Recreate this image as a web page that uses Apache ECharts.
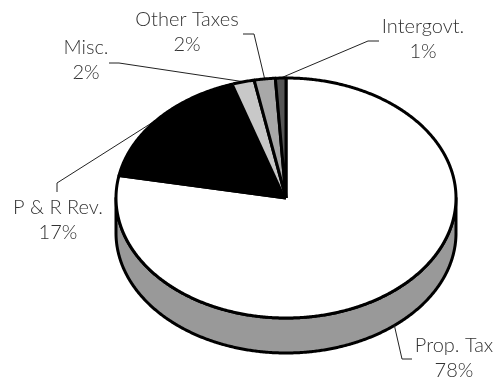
<!DOCTYPE html>
<html>
<head>
<meta charset="utf-8">
<style>html,body{margin:0;padding:0;background:#fff}#c{width:494px;height:379px}</style>
<script src="https://cdn.jsdelivr.net/npm/echarts@6/dist/echarts.min.js"></script>
</head>
<body>
<div id="c"></div>
<script>
// Revenue shares, clockwise from twelve o'clock
const sources = ['Prop. Tax', 'P & R Rev.', 'Misc.', 'Other Taxes', 'Intergovt.'];
const shares = [78, 17, 2, 2, 1];
const sliceColors = ['#ffffff', '#000000', '#c8c8c8', '#a8a8a8', '#555555'];

// Tilted disc geometry, in pixels
const cx = 286, cy = 198, rx = 170, ry = 120, depth = 35;

// Leader elbows and label centres for each source: [elbow A, elbow B, label centre]
const leaderLayout = [
  [[402, 359], [412, 359], [454, 346]],
  [[57, 183], [57, 192], [58, 208]],
  [[119, 63], [109, 63], [86, 48]],
  [[254, 34], [243, 34], [187, 20]],
  [[368, 41], [379, 41], [423, 27]]
];
const lineGap = 25;

const total = shares.reduce((a, b) => a + b, 0);
let running = 0;
const sliceData = shares.map((v, i) => {
  const row = [running, running + v, i];
  running += v;
  return row;
});

// Point on the rim of the disc for a cumulative share
function rim(share, drop) {
  const a = share / total * 2 * Math.PI;
  return [cx + rx * Math.sin(a), cy - ry * Math.cos(a) + (drop || 0)];
}

function arcPoints(from, to, drop) {
  const pts = [];
  const steps = Math.max(2, Math.ceil((to - from) * 8));
  for (let k = 0; k <= steps; k++) pts.push(rim(from + (to - from) * k / steps, drop));
  return pts;
}

function renderWall() {
  const front = arcPoints(total * 0.25, total * 0.75, 0);
  const back = arcPoints(total * 0.25, total * 0.75, depth).reverse();
  return {
    type: 'polygon',
    shape: { points: front.concat(back) },
    style: { fill: '#999999', stroke: '#000000', lineWidth: 3, lineJoin: 'round' }
  };
}

function renderSlice(params, api) {
  const from = api.value(0), to = api.value(1), i = api.value(2);
  const arc = arcPoints(from, to, 0);
  const hub = [cx, cy];
  // A slice following the black one needs no divider on its leading edge
  const afterBlack = i > 0 && sliceColors[i - 1] === '#000000';
  const outline = afterBlack ? arc.concat([hub]) : [hub].concat(arc, [hub]);
  return {
    type: 'group',
    children: [
      { type: 'polygon', shape: { points: [hub].concat(arc) }, style: { fill: sliceColors[i] } },
      {
        type: 'polyline',
        shape: { points: outline },
        style: { fill: null, stroke: '#000000', lineWidth: 3, lineJoin: 'round' }
      }
    ]
  };
}

function renderLeader(params, api) {
  const from = api.value(0), to = api.value(1), i = api.value(2);
  const mid = (from + to) / 2;
  const onFront = mid > total * 0.25 && mid < total * 0.75;
  const layout = leaderLayout[i];
  return {
    type: 'polyline',
    shape: { points: [rim(mid, onFront ? depth : 0), layout[0], layout[1]] },
    style: { fill: null, stroke: '#222222', lineWidth: 1 }
  };
}

function renderLabel(params, api) {
  const from = api.value(0), to = api.value(1), i = api.value(2);
  const c = leaderLayout[i][2];
  const textStyle = {
    fill: '#333333',
    font: '300 20px Lato',
    align: 'center',
    verticalAlign: 'middle'
  };
  return {
    type: 'group',
    children: [
      { type: 'text', style: Object.assign({ x: c[0], y: c[1], text: sources[i] }, textStyle) },
      { type: 'text', style: Object.assign({ x: c[0], y: c[1] + lineGap, text: (to - from) + '%' }, textStyle) }
    ]
  };
}

const chart = echarts.init(document.getElementById('c'), null, { renderer: 'canvas' });
chart.setOption({
  animation: false,
  backgroundColor: '#ffffff',
  series: [
    { type: 'custom', coordinateSystem: 'none', silent: true, z: 1, data: [[0]], renderItem: renderWall },
    { type: 'custom', coordinateSystem: 'none', silent: true, z: 2, data: sliceData, renderItem: renderLeader },
    { type: 'custom', coordinateSystem: 'none', silent: true, z: 3, data: sliceData, renderItem: renderSlice },
    { type: 'custom', coordinateSystem: 'none', silent: true, z: 4, data: sliceData, renderItem: renderLabel }
  ]
});
</script>
</body>
</html>
